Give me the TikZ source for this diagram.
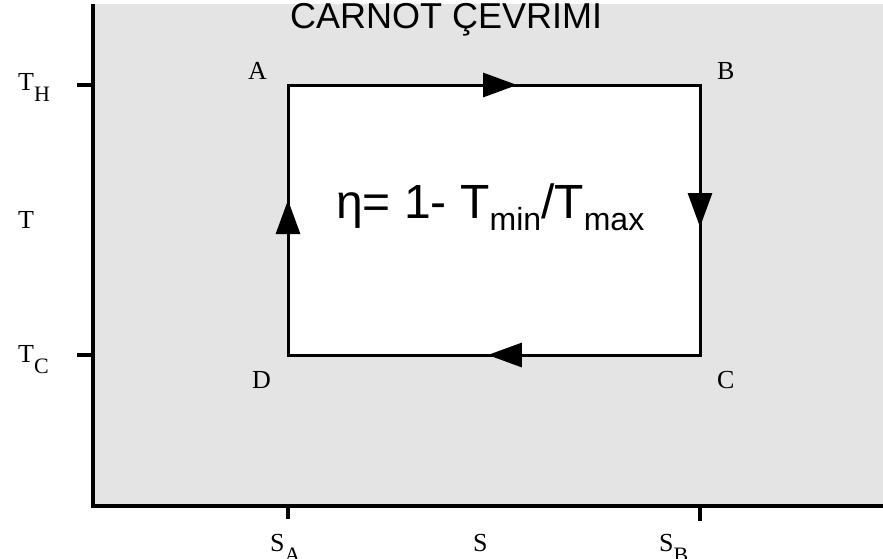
\documentclass[tikz,border=0pt]{standalone}
\usepackage{fontspec}
\setmainfont{Liberation Serif}
\newfontfamily\arialfont{Liberation Sans}
\usetikzlibrary{positioning,arrows.meta,decorations.markings}
\definecolor{PanelGray}{RGB}{228,228,228}

\begin{document}
\begin{tikzpicture}[x=1pt,y=-1pt,
    every node/.style={inner sep=0pt,anchor=base west},
    lbl/.style={font=\fontsize{26}{26}\selectfont},
    axisline/.style={line width=3.3pt},
    cycline/.style={line width=3pt,line cap=rect},
    midarrow/.style={postaction={decorate,decoration={markings,mark=at position #1 with {\arrow{Triangle[length=34pt,width=24pt]}}}}}]
    \useasboundingbox (0,0) rectangle (883,558);
    % panel and axes
    \fill[PanelGray] (93,4) rectangle (883,506);
    \coordinate (o) at (93,506);
    \coordinate (ytop) at (93,4);
    \coordinate (xend) at (883,506);
    \draw[axisline] (ytop) -- (o) -- (xend);
    % corners of the cycle
    \coordinate (a) at (288,85);
    \coordinate (b) at (700,85);
    \coordinate (c) at (700,355);
    \coordinate (d) at (288,355);
    \fill[white] (a) rectangle (c);
    \draw[cycline,midarrow=0.556] (a) -- (b);
    \draw[cycline,midarrow=0.526] (b) -- (c);
    \draw[cycline,midarrow=0.515] (c) -- (d);
    \draw[cycline,midarrow=0.574] (d) -- (a);
    % ticks
    \coordinate (th) at (77,85);
    \coordinate (tc) at (77,355);
    \coordinate (sa) at (288,519);
    \coordinate (sb) at (700,521);
    \draw[axisline] (th) -- (th -| o);
    \draw[axisline] (tc) -- (tc -| o);
    \draw[axisline] (sa) -- (sa |- o);
    \draw[axisline] (sb) -- (sb |- o);
    % labels
    \node[lbl] (la) at (248,79) {A};
    \node[lbl] (lb) at (717,79) {B};
    \node[lbl] (lc) at (717,388) {C};
    \node[lbl] (ld) at (252,388) {D};
    \node[lbl] (lth) at (18,90) {T\raisebox{-11pt}{\fontsize{22}{22}\selectfont H}};
    \node[lbl] (lt) at (18,228) {T};
    \node[lbl] (ltc) at (18,362) {T\raisebox{-11pt}{\fontsize{22}{22}\selectfont C}};
    \node[lbl] (lsa) at (270,551) {S\raisebox{-11pt}{\fontsize{22}{22}\selectfont A}};
    \node[lbl] (ls) at (473,551) {S};
    \node[lbl] (lsb) at (659,551) {S\raisebox{-11pt}{\fontsize{22}{22}\selectfont B}};
    \node[font=\arialfont\fontsize{36}{36}\selectfont] (title) at (290,28) {CARNOT ÇEVRIMI};
    \node[font=\arialfont\fontsize{48}{48}\selectfont] (eta) at (336,218)
        {η= 1- T\raisebox{-12pt}{\fontsize{32}{32}\selectfont min}/T\raisebox{-12pt}{\fontsize{32}{32}\selectfont max}};
\end{tikzpicture}
\end{document}
